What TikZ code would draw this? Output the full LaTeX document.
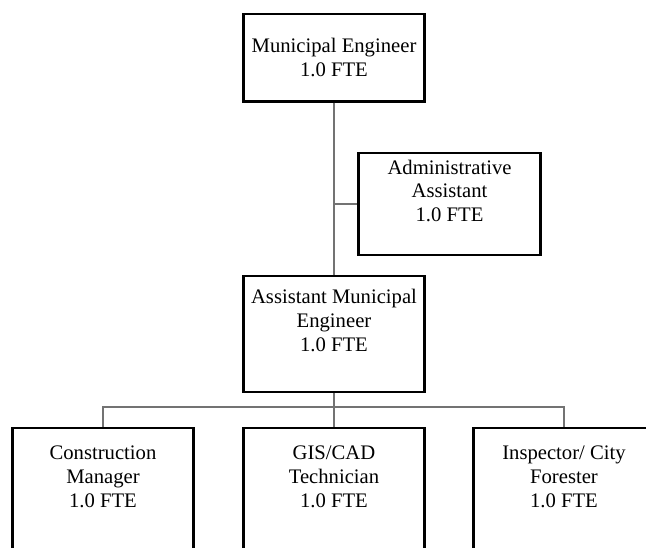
\documentclass[tikz,border=0pt]{standalone}
\usepackage{fontspec}
\setmainfont{Liberation Serif}
\begin{document}
\begin{tikzpicture}[x=0.75pt, y=-0.75pt,
  every node/.style={font=\fontsize{15.5}{17.8}\selectfont},
  post/.style={draw, line width=2.2pt, inner sep=0pt, align=center, anchor=north, minimum width=136pt},
  link/.style={line width=1.2pt, draw=black!55}]
  \useasboundingbox (0,0) rectangle (646,547);
  \clip (0,0) rectangle (646,547);

  % top of the chart
  \node[post, text height=46.9pt, text depth=18.4pt] (me) at (334,12.5) {Municipal Engineer\\1.0 FTE};
  \node[post, minimum width=136.5pt, text height=51.4pt, text depth=25.1pt] (aa) at (449.5,151.5) {Administrative\\Assistant\\1.0 FTE};
  \node[post, text height=56.6pt, text depth=30.4pt] (ame) at (334,274.5) {Assistant Municipal\\Engineer\\1.0 FTE};

  % bottom row
  \node[post, text height=59.6pt, text depth=112pt] (cm) at (103,426.5) {Construction\\Manager\\1.0 FTE};
  \node[post, text height=59.6pt, text depth=112pt] (gis) at (334,426.5) {GIS/CAD\\Technician\\1.0 FTE};
  \node[post, text height=59.6pt, text depth=112pt] (ins) at (564,426.5) {Inspector/ City\\Forester\\1.0 FTE};

  \coordinate (bus) at (334,407);

  \draw[link] (me.south) -- (ame.north);
  \draw[link] (me.south |- aa.west) -- (aa.west);
  \draw[link] (ame.south) -- (gis.north);
  \draw[link] (cm.north) |- (bus) -| (ins.north);
\end{tikzpicture}
\end{document}
